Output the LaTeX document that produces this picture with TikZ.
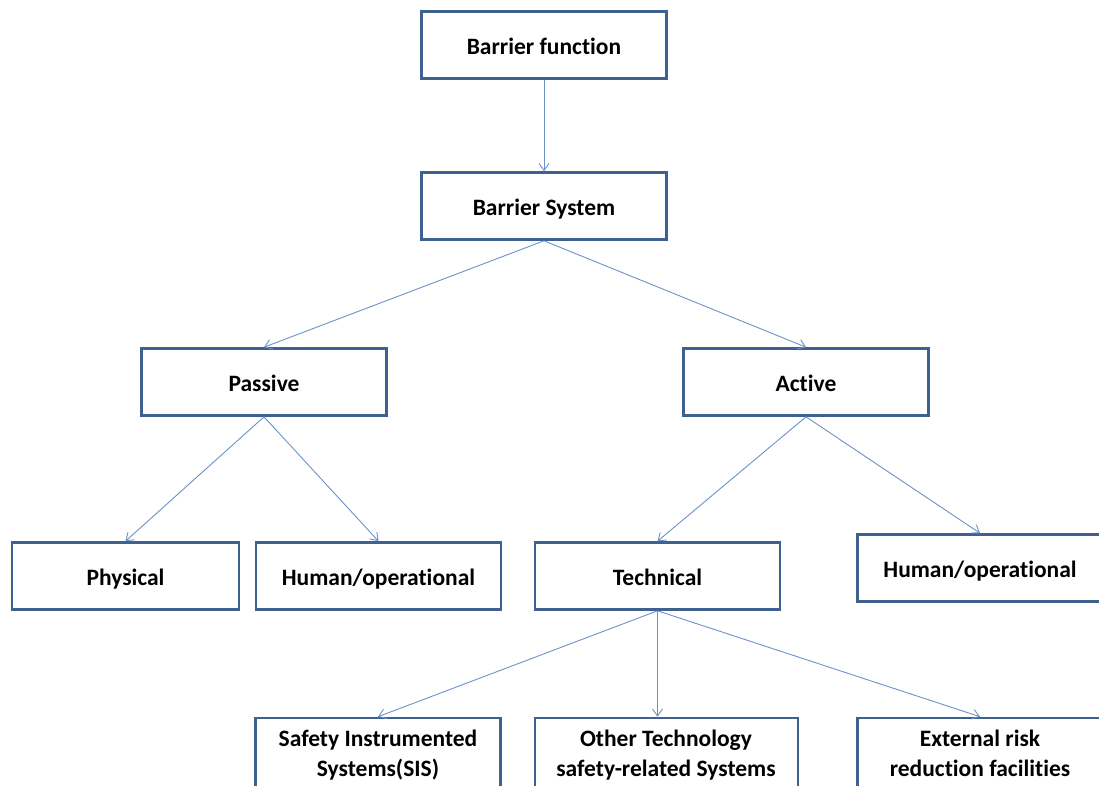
\documentclass[tikz,border=0pt]{standalone}
\usepackage{fontspec}
\setmainfont[Ligatures={NoCommon}]{Carlito}
\usetikzlibrary{arrows.meta}
\definecolor{boxc}{HTML}{3F6190}
\definecolor{arrc}{HTML}{6A93C8}
\tikzset{txt/.style={font=\fontsize{23.5}{30}\selectfont\bfseries,align=center}}
\begin{document}
\begin{tikzpicture}[x=1pt,y=-1pt,
  box/.style={draw=boxc,line width=2.6pt,fill=white,minimum width=245pt,minimum height=67pt,inner sep=0pt,txt,text height=18pt,text depth=0pt},
  arr/.style={draw=arrc,line width=0.9pt,-{Straight Barb[length=7pt,width=10pt,line width=0.9pt]}}]
\useasboundingbox (0,0) rectangle (1099,785);
\clip (0,0) rectangle (1099,785);
\node[box] (bf) at (544,45) {Barrier function};
\node[box] (bs) at (544,206) {Barrier System};
\node[box] (pa) at (264,382) {Passive};
\node[box] (ac) at (806,382) {Active};
\node[box,minimum width=227pt] (ph) at (125.5,576) {Physical};
\node[box] (h1) at (378.5,576) {Human/operational};
\node[box] (te) at (657.5,576) {Technical};
\node[box,minimum width=245pt] (h2) at (980,568) {Human/operational};
\node[box,minimum height=72pt] (sis) at (378,754) {};
\node[box,minimum width=263pt,minimum height=72pt] (ot) at (666.5,754) {};
\node[box,minimum height=72pt] (ex) at (980,754) {};
\node[txt,anchor=north] (tsis) at (378,726) {Safety Instrumented\\Systems(SIS)};
\node[txt,anchor=north] (tot) at (666,726) {Other Technology\\safety-related Systems};
\node[txt,anchor=north] (tex) at (980,726) {External risk\\reduction facilities};
\draw[arr] (bf.south) -- (bs.north);
\draw[arr] (bs.south) -- (pa.north);
\draw[arr] (bs.south) -- (ac.north);
\draw[arr] (pa.south) -- (ph.north);
\draw[arr] (pa.south) -- (h1.north);
\draw[arr] (ac.south) -- (te.north);
\draw[arr] (ac.south) -- (h2.north);
\draw[arr] (te.south) -- (sis.north);
\draw[arr] (te.south) -- (te.south |- ot.north);
\draw[arr] (te.south) -- (ex.north);
\end{tikzpicture}
\end{document}
